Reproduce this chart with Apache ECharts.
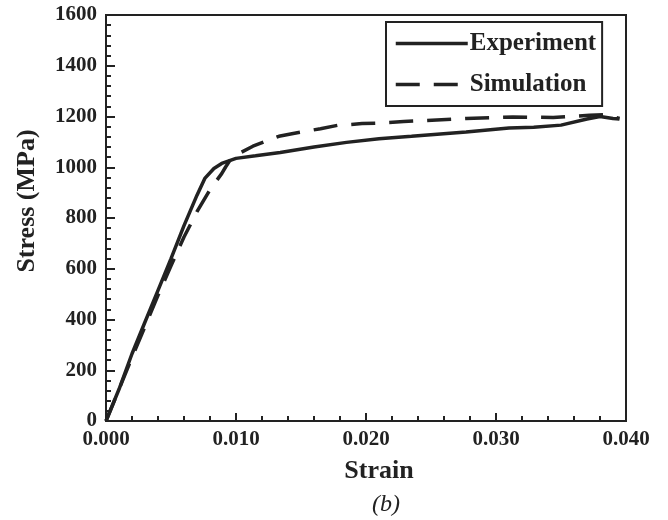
<!DOCTYPE html>
<html>
<head>
<meta charset="utf-8">
<script src="https://cdn.jsdelivr.net/npm/echarts@6/dist/echarts.min.js"></script>
<style>html,body{margin:0;padding:0;background:#fff}#c{width:668px;height:520px}</style>
</head>
<body>
<div id="c"></div>
<script>
const expStrain = [0, 0.001, 0.002, 0.003, 0.004, 0.005, 0.006, 0.007, 0.0076, 0.0083, 0.0089, 0.010, 0.0115, 0.0134, 0.016, 0.0185, 0.021, 0.0235, 0.0277, 0.031, 0.0329, 0.035, 0.037, 0.038, 0.039, 0.0395];
const expStress = [0, 125, 265, 390, 515, 640, 770, 890, 956, 995, 1015, 1035, 1045, 1058, 1080, 1098, 1112, 1122, 1139, 1155, 1158, 1166, 1190, 1200, 1192, 1190];
const simStrain = [0, 0.002, 0.004, 0.005, 0.006, 0.007, 0.008, 0.0089, 0.0092, 0.0097, 0.0113, 0.0133, 0.0144, 0.0165, 0.0178, 0.0197, 0.0208, 0.0229, 0.0277, 0.0313, 0.0344, 0.0372, 0.0385, 0.0395];
const simStress = [0, 250, 495, 612, 725, 825, 912, 975, 1001, 1040, 1083, 1122, 1133, 1152, 1165, 1172, 1174, 1180, 1192, 1198, 1196, 1205, 1208, 1192];
const seriesNames = ['Experiment', 'Simulation'];
const xTitle = 'Strain';
const yTitle = 'Stress (MPa)';
const caption = '(b)';

const FONT = 'Liberation Serif';
const INK = '#222';
const zip = (a, b) => a.map((v, i) => [v, b[i]]);

const chart = echarts.init(document.getElementById('c'), null, {renderer: 'canvas'});
chart.setOption({
  animation: false,
  backgroundColor: '#fff',
  grid: {left: 106, right: 42, top: 15, bottom: 99, show: true, borderColor: INK, borderWidth: 2, backgroundColor: 'transparent'},
  xAxis: {
    type: 'value', min: 0, max: 0.04, interval: 0.01,
    axisLine: {lineStyle: {color: INK, width: 2}},
    axisTick: {inside: true, length: 8, lineStyle: {color: INK, width: 2}},
    minorTick: {show: true, splitNumber: 5, length: 5, lineStyle: {color: INK, width: 2}},
    splitLine: {show: false},
    axisLabel: {margin: 8, color: INK, fontFamily: FONT, fontSize: 21, fontWeight: 'bold', formatter: v => v.toFixed(3)}
  },
  yAxis: {
    type: 'value', min: 0, max: 1600, interval: 200,
    axisLine: {lineStyle: {color: INK, width: 2}},
    axisTick: {inside: true, length: 9, lineStyle: {color: INK, width: 2}},
    minorTick: {show: true, splitNumber: 5, length: 5, lineStyle: {color: INK, width: 2}},
    splitLine: {show: false},
    axisLabel: {margin: 9, color: INK, fontFamily: FONT, fontSize: 21, fontWeight: 'bold', formatter: v => String(v)}
  },
  legend: {
    orient: 'vertical', left: 386, top: 22,
    borderColor: INK, borderWidth: 2, padding: [9, 6, 9, 8],
    itemWidth: 72, itemHeight: 14, itemGap: 16,
    itemStyle: {opacity: 0, borderWidth: 0},
    lineStyle: {width: 3.5, color: INK},
    textStyle: {fontFamily: FONT, fontSize: 25, fontWeight: 'bold', color: INK, padding: [0, 0, 0, -3]},
    data: seriesNames
  },
  series: [
    {name: seriesNames[0], type: 'line', symbol: 'none', data: zip(expStrain, expStress),
     lineStyle: {color: INK, width: 3.5, type: 'solid'}, itemStyle: {color: INK}},
    {name: seriesNames[1], type: 'line', symbol: 'none', data: zip(simStrain, simStress),
     lineStyle: {color: INK, width: 3.5, type: [24, 14]}, itemStyle: {color: INK}}
  ],
  graphic: [
    {type: 'text', position: [379, 471], style: {text: xTitle, align: 'center', verticalAlign: 'middle', font: 'bold 26px "Liberation Serif"', fill: INK}},
    {type: 'text', position: [27, 201], rotation: Math.PI / 2, style: {text: yTitle, align: 'center', verticalAlign: 'middle', font: 'bold 26px "Liberation Serif"', fill: INK}},
    {type: 'text', position: [386, 505], style: {text: caption, align: 'center', verticalAlign: 'middle', font: 'italic 24px "Liberation Serif"', fill: INK}}
  ]
});
</script>
</body>
</html>
